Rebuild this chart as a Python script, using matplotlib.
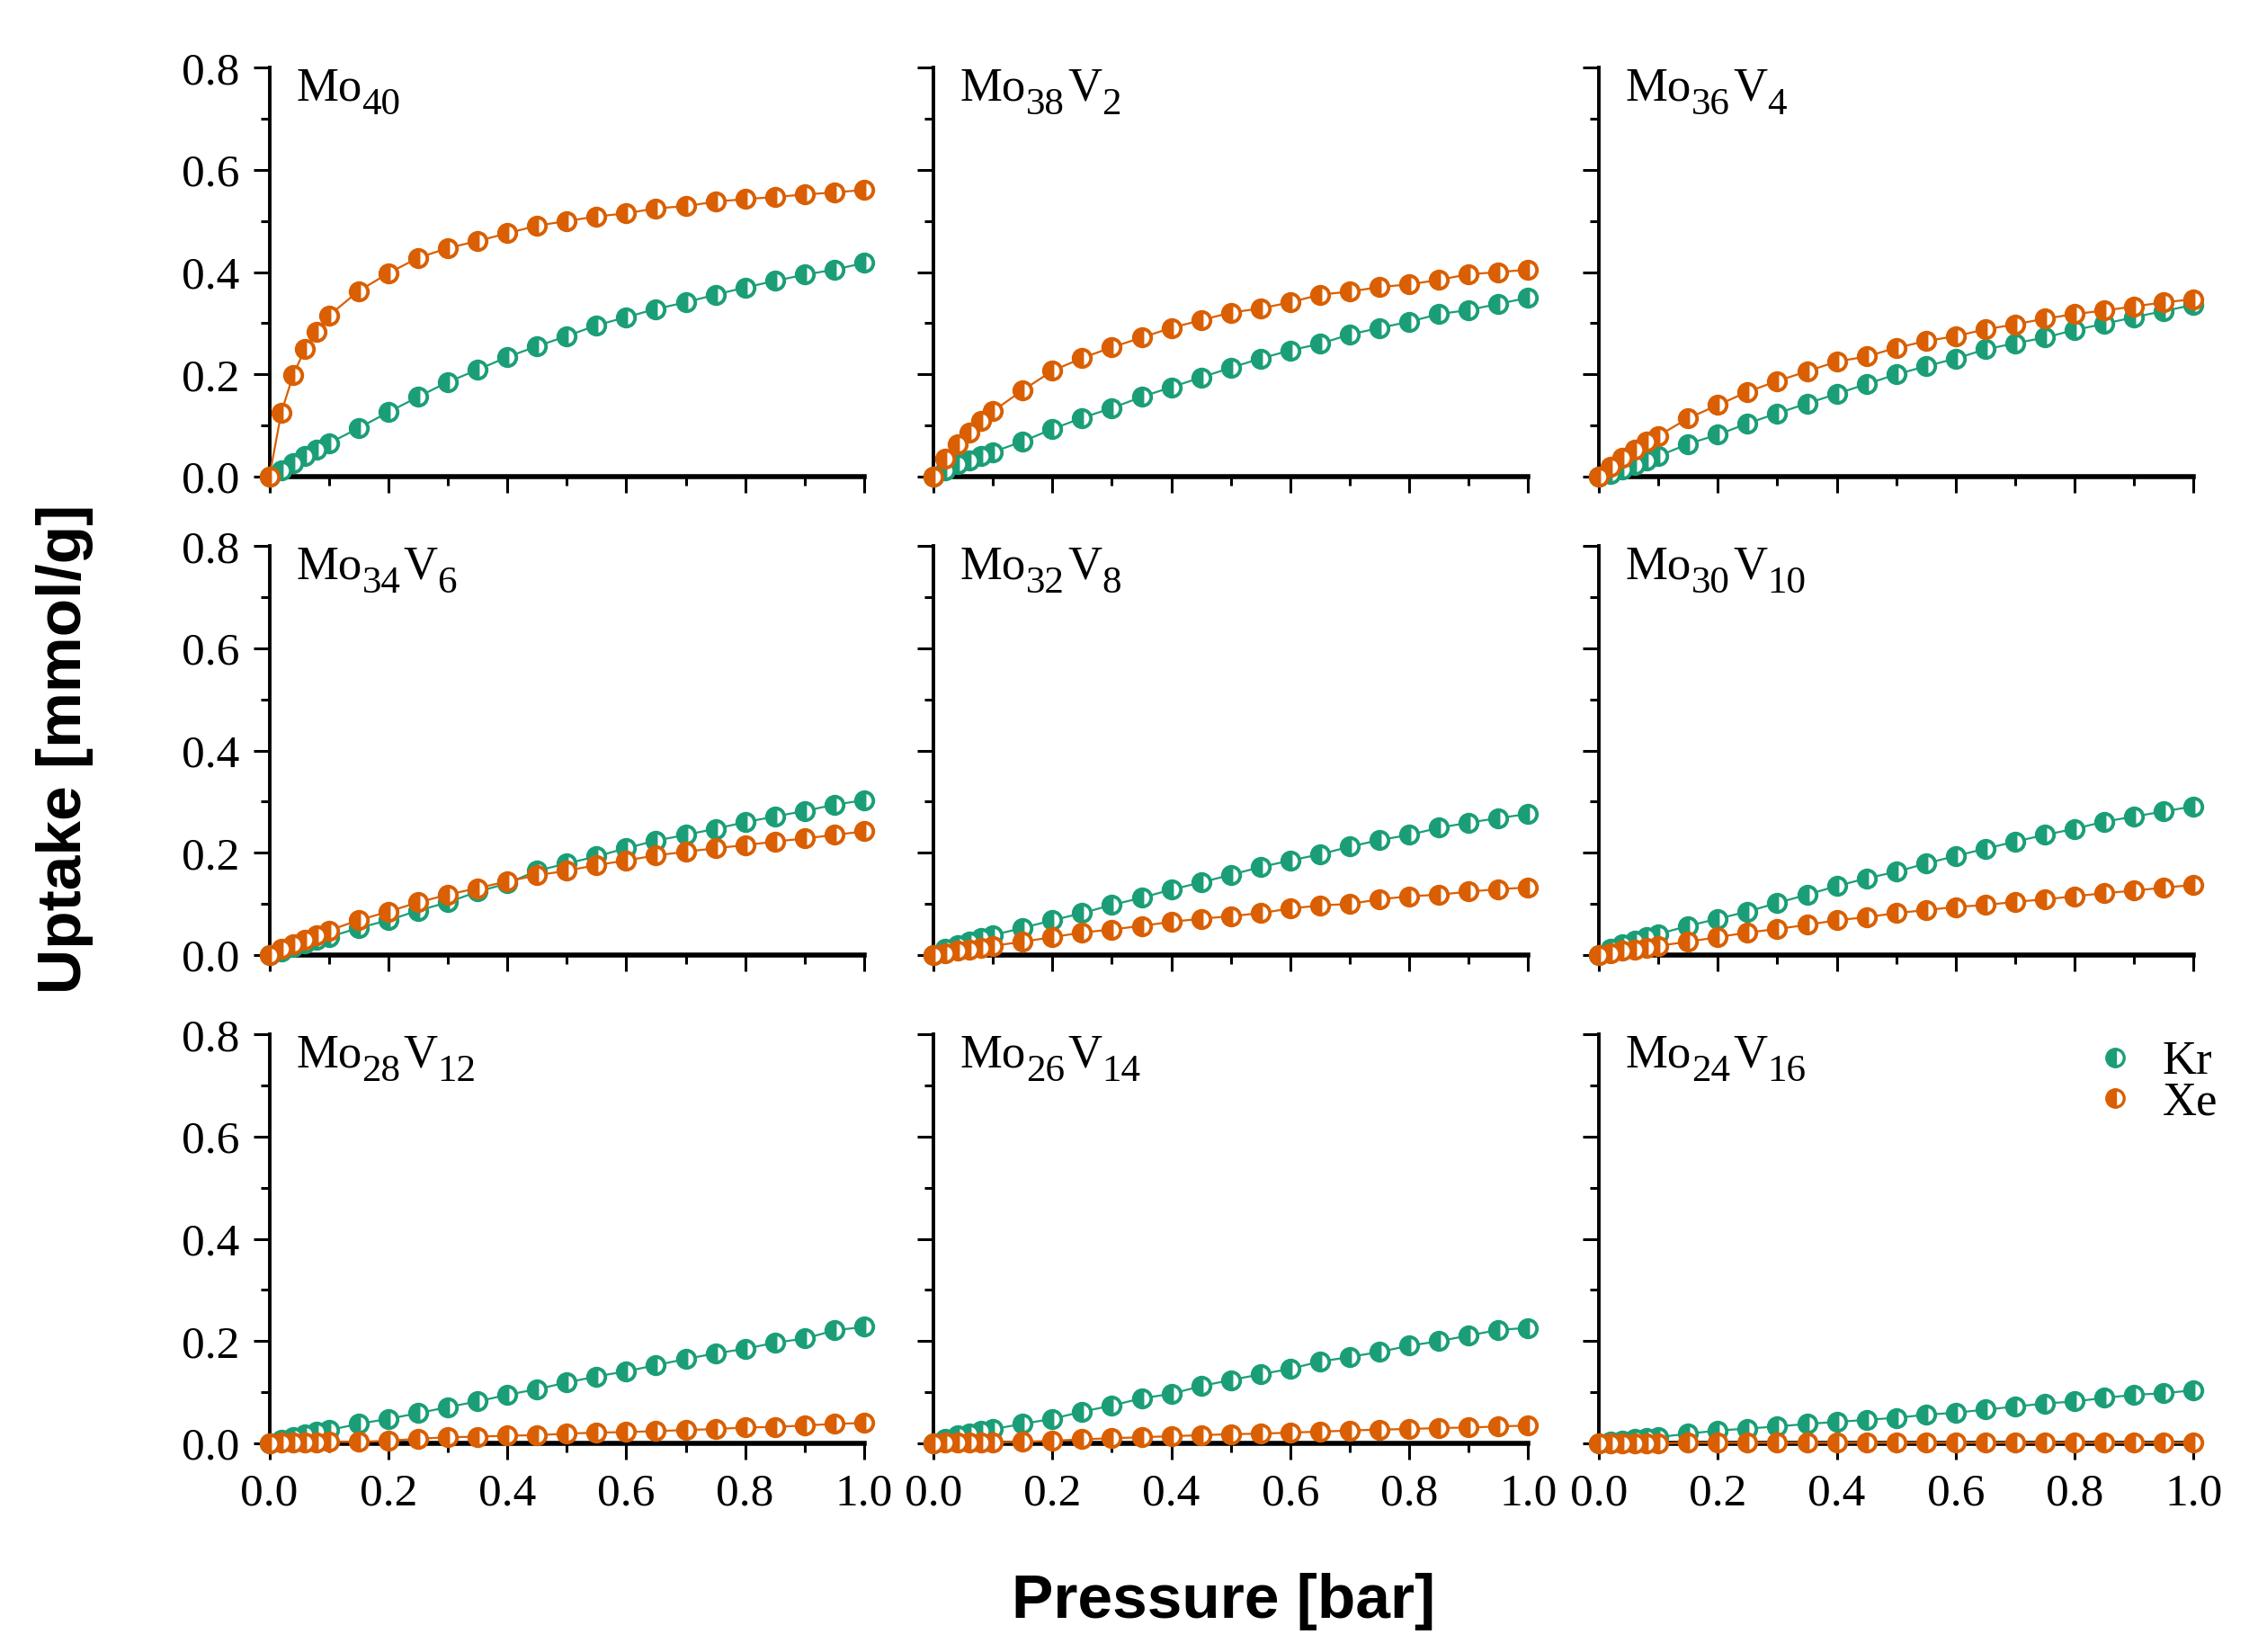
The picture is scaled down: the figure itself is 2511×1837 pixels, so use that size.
import matplotlib
matplotlib.use('Agg')
import matplotlib.pyplot as plt
from matplotlib.ticker import MultipleLocator
from matplotlib.lines import Line2D

plt.rcParams['font.family'] = ['Liberation Serif', 'DejaVu Serif']

# ---------------- data ----------------
pressure = [0.00, 0.02, 0.04, 0.06, 0.08, 0.10, 0.15, 0.20, 0.25, 0.30, 0.35, 0.40,
            0.45, 0.50, 0.55, 0.60, 0.65, 0.70, 0.75, 0.80, 0.85, 0.90, 0.95, 1.00]

# panel labels: (element, subscript) pairs
panel_formulas = [[('Mo', '40')],
                  [('Mo', '38'), ('V', '2')],
                  [('Mo', '36'), ('V', '4')],
                  [('Mo', '34'), ('V', '6')],
                  [('Mo', '32'), ('V', '8')],
                  [('Mo', '30'), ('V', '10')],
                  [('Mo', '28'), ('V', '12')],
                  [('Mo', '26'), ('V', '14')],
                  [('Mo', '24'), ('V', '16')]]

kr_mo40 = [0, 0.013, 0.026, 0.041, 0.052, 0.065, 0.095, 0.126, 0.156, 0.185, 0.209, 0.234,
           0.255, 0.275, 0.296, 0.312, 0.328, 0.341, 0.356, 0.370, 0.383, 0.395, 0.405, 0.418]
xe_mo40 = [0, 0.125, 0.199, 0.250, 0.284, 0.315, 0.363, 0.398, 0.428, 0.447, 0.461, 0.476,
           0.491, 0.500, 0.509, 0.515, 0.525, 0.529, 0.538, 0.543, 0.547, 0.552, 0.556, 0.561]

kr_mo38 = [0, 0.013, 0.024, 0.032, 0.040, 0.048, 0.069, 0.093, 0.115, 0.134, 0.156, 0.175,
           0.194, 0.213, 0.231, 0.247, 0.260, 0.278, 0.291, 0.303, 0.318, 0.326, 0.338, 0.350]
xe_mo38 = [0, 0.035, 0.063, 0.087, 0.109, 0.128, 0.169, 0.207, 0.232, 0.253, 0.272, 0.291,
           0.306, 0.321, 0.329, 0.341, 0.356, 0.362, 0.371, 0.376, 0.385, 0.396, 0.400, 0.405]

kr_mo36 = [0, 0.006, 0.014, 0.022, 0.031, 0.040, 0.064, 0.082, 0.104, 0.124, 0.143, 0.162,
           0.181, 0.200, 0.216, 0.231, 0.249, 0.261, 0.272, 0.287, 0.299, 0.312, 0.324, 0.336]
xe_mo36 = [0, 0.019, 0.037, 0.053, 0.069, 0.080, 0.114, 0.140, 0.166, 0.187, 0.206, 0.225,
           0.235, 0.252, 0.265, 0.275, 0.288, 0.298, 0.309, 0.318, 0.325, 0.333, 0.341, 0.347]

kr_mo34 = [0, 0.007, 0.015, 0.022, 0.029, 0.035, 0.053, 0.068, 0.087, 0.103, 0.124, 0.140,
           0.165, 0.179, 0.193, 0.209, 0.224, 0.235, 0.247, 0.260, 0.271, 0.282, 0.294, 0.303]
xe_mo34 = [0, 0.012, 0.021, 0.029, 0.038, 0.048, 0.068, 0.085, 0.103, 0.118, 0.131, 0.144,
           0.156, 0.165, 0.176, 0.185, 0.195, 0.202, 0.209, 0.215, 0.222, 0.228, 0.235, 0.242]

kr_mo32 = [0, 0.012, 0.019, 0.026, 0.034, 0.039, 0.053, 0.068, 0.082, 0.098, 0.112, 0.128,
           0.142, 0.157, 0.172, 0.185, 0.197, 0.212, 0.225, 0.235, 0.249, 0.259, 0.268, 0.276]
xe_mo32 = [0, 0.004, 0.008, 0.010, 0.014, 0.018, 0.026, 0.035, 0.044, 0.050, 0.057, 0.065,
           0.071, 0.076, 0.082, 0.091, 0.097, 0.100, 0.109, 0.115, 0.118, 0.124, 0.129, 0.132]

kr_mo30 = [0, 0.012, 0.021, 0.028, 0.035, 0.041, 0.057, 0.071, 0.085, 0.102, 0.118, 0.135,
           0.150, 0.163, 0.179, 0.194, 0.208, 0.222, 0.235, 0.247, 0.261, 0.271, 0.281, 0.291]
xe_mo30 = [0, 0.004, 0.008, 0.010, 0.014, 0.018, 0.026, 0.035, 0.044, 0.051, 0.059, 0.068,
           0.074, 0.082, 0.088, 0.094, 0.098, 0.104, 0.109, 0.115, 0.121, 0.126, 0.132, 0.137]

kr_mo28 = [0, 0.007, 0.013, 0.018, 0.022, 0.026, 0.038, 0.048, 0.059, 0.071, 0.082, 0.095,
           0.106, 0.119, 0.131, 0.141, 0.153, 0.165, 0.176, 0.185, 0.197, 0.205, 0.221, 0.228]
xe_mo28 = [0, 0.001, 0.001, 0.002, 0.002, 0.003, 0.003, 0.005, 0.009, 0.012, 0.013, 0.015,
           0.016, 0.019, 0.021, 0.022, 0.024, 0.026, 0.028, 0.031, 0.032, 0.035, 0.038, 0.040]

kr_mo26 = [0, 0.009, 0.015, 0.019, 0.024, 0.028, 0.038, 0.048, 0.062, 0.074, 0.088, 0.097,
           0.112, 0.124, 0.135, 0.146, 0.160, 0.169, 0.179, 0.191, 0.200, 0.211, 0.222, 0.226]
xe_mo26 = [0, 0.001, 0.001, 0.002, 0.002, 0.002, 0.003, 0.005, 0.008, 0.010, 0.012, 0.014,
           0.016, 0.018, 0.019, 0.021, 0.023, 0.025, 0.027, 0.028, 0.030, 0.031, 0.033, 0.035]

kr_mo24 = [0, 0.004, 0.006, 0.008, 0.010, 0.012, 0.019, 0.025, 0.029, 0.033, 0.038, 0.042,
           0.046, 0.050, 0.056, 0.060, 0.066, 0.072, 0.078, 0.082, 0.089, 0.095, 0.098, 0.104]
xe_mo24 = [0, 0.000, 0.000, 0.000, 0.000, 0.000, 0.001, 0.001, 0.001, 0.001, 0.001, 0.001,
           0.001, 0.001, 0.001, 0.001, 0.001, 0.001, 0.001, 0.001, 0.001, 0.001, 0.001, 0.001]

kr_series = [kr_mo40, kr_mo38, kr_mo36, kr_mo34, kr_mo32, kr_mo30, kr_mo28, kr_mo26, kr_mo24]
xe_series = [xe_mo40, xe_mo38, xe_mo36, xe_mo34, xe_mo32, xe_mo30, xe_mo28, xe_mo26, xe_mo24]

# ---------------- style ----------------
KR_C = '#1b9e77'
XE_C = '#d95f02'

fig = plt.figure(figsize=(25.11, 18.37), dpi=100)
renderer = fig.canvas.get_renderer()
lefts = [0.1193, 0.4134, 0.7081]
bottoms = [0.7115, 0.4219, 0.1263]
W, H = 0.2634, 0.2475

mk = dict(marker='o', ms=14, mew=2.8, fillstyle='left',
          markerfacecoloralt='white', lw=1.6, clip_on=False)

TITLE_FS = 38
SUB_FS = 31
SUB_DROP = 11  # points


def draw_formula(ax, x, y, formula):
    x_disp, y_disp = ax.transAxes.transform((x, y))
    inv = ax.transAxes.inverted()
    cur = x_disp
    for elem, sub in formula:
        for txt, fs, dy in ((elem, TITLE_FS, 0.0), (sub, SUB_FS, SUB_DROP * fig.dpi / 72)):
            xa, ya = inv.transform((cur, y_disp - dy))
            t = ax.text(xa, ya, txt, transform=ax.transAxes, fontsize=fs,
                        ha='left', va='baseline')
            cur = t.get_window_extent(renderer).x1 + (3 if dy else 0)


for i, formula in enumerate(panel_formulas):
    r, c = divmod(i, 3)
    ax = fig.add_axes([lefts[c], bottoms[r], W, H])
    ax.plot(pressure, kr_series[i], color=KR_C, zorder=3, **mk)
    ax.plot(pressure, xe_series[i], color=XE_C, zorder=4, **mk)
    ax.set_xlim(0, 1)
    ax.set_ylim(0, 0.8)
    for s in ['top', 'right']:
        ax.spines[s].set_visible(False)
    ax.spines['left'].set_linewidth(2.8)
    ax.spines['bottom'].set_linewidth(4.0)
    ax.xaxis.set_major_locator(MultipleLocator(0.2))
    ax.xaxis.set_minor_locator(MultipleLocator(0.1))
    ax.yaxis.set_major_locator(MultipleLocator(0.2))
    ax.yaxis.set_minor_locator(MultipleLocator(0.1))
    ax.tick_params(which='major', direction='out', length=13, width=2.2,
                   labelsize=37, pad=11)
    ax.tick_params(which='minor', direction='out', length=7, width=2.2)
    ax.tick_params(labelleft=(c == 0), labelbottom=(r == 2))
    draw_formula(ax, 0.045, 0.92, formula)
    if i == 8:
        handles = [Line2D([], [], ls='none', marker='o', ms=14, mew=2.4,
                          color=KR_C, fillstyle='left', markerfacecoloralt='white'),
                   Line2D([], [], ls='none', marker='o', ms=14, mew=2.4,
                          color=XE_C, fillstyle='left', markerfacecoloralt='white')]
        ax.legend(handles, ['Kr', 'Xe'], loc='upper right',
                  bbox_to_anchor=(1.04, 0.985), frameon=False, fontsize=38,
                  handlelength=0.6, handletextpad=0.7, labelspacing=-0.05,
                  borderaxespad=0.0, borderpad=0.0)

fig.text(0.0287, 0.5465, 'Uptake [mmol/g]', rotation=90, ha='center', va='center',
         fontsize=50, fontweight='bold', family='Liberation Sans')
fig.text(0.542, 0.0305, 'Pressure [bar]', ha='center', va='center',
         fontsize=50, fontweight='bold', family='Liberation Sans')

fig.savefig('out.png', dpi=100)
